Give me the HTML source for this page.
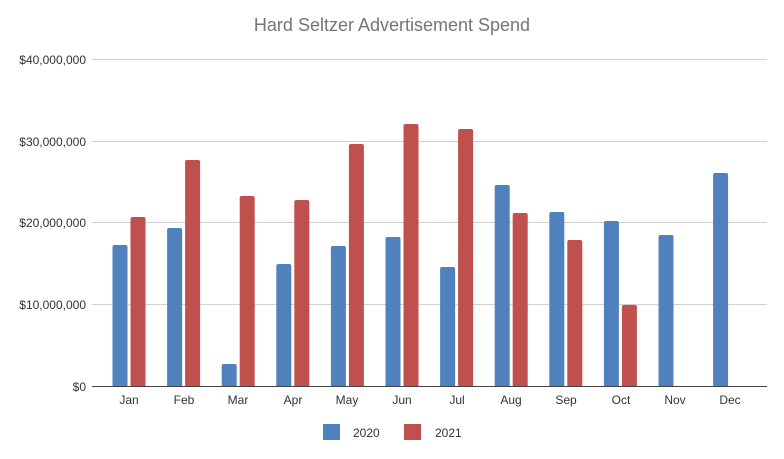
<!DOCTYPE html>
<html><head><style>body{margin:0;background:#fff}</style></head><body>
<svg width="784" height="454" xmlns="http://www.w3.org/2000/svg" font-family="'Liberation Sans',sans-serif">
<rect width="784" height="454" fill="#fff"/>
<text x="392" y="31" text-anchor="middle" font-size="18" fill="#757575">Hard Seltzer Advertisement Spend</text>
<g stroke="#d0d0d0" stroke-width="1">
<line x1="92" y1="59.5" x2="767" y2="59.5"/><line x1="92" y1="141.5" x2="767" y2="141.5"/>
<line x1="92" y1="222.5" x2="767" y2="222.5"/><line x1="92" y1="304.5" x2="767" y2="304.5"/>
</g>
<g font-size="12" fill="#333" text-anchor="end">
<text x="86" y="64">$40,000,000</text><text x="86" y="146">$30,000,000</text>
<text x="86" y="227">$20,000,000</text><text x="86" y="309">$10,000,000</text><text x="86" y="391">$0</text>
</g>
<g fill="#4f81bd">
<rect x="112.5" y="245" width="15" height="143" rx="2"/>
<rect x="167.1" y="228" width="15" height="160" rx="2"/>
<rect x="221.7" y="364" width="15" height="24" rx="2"/>
<rect x="276.3" y="264" width="15" height="124" rx="2"/>
<rect x="330.9" y="246" width="15" height="142" rx="2"/>
<rect x="385.5" y="237" width="15" height="151" rx="2"/>
<rect x="440.1" y="267" width="15" height="121" rx="2"/>
<rect x="494.7" y="185" width="15" height="203" rx="2"/>
<rect x="549.3" y="212" width="15" height="176" rx="2"/>
<rect x="603.9" y="221" width="15" height="167" rx="2"/>
<rect x="658.5" y="235" width="15" height="153" rx="2"/>
<rect x="713.1" y="173" width="15" height="215" rx="2"/>
</g>
<g fill="#c0504d">
<rect x="130.5" y="217" width="15" height="171" rx="2"/>
<rect x="185.1" y="160" width="15" height="228" rx="2"/>
<rect x="239.7" y="196" width="15" height="192" rx="2"/>
<rect x="294.3" y="200" width="15" height="188" rx="2"/>
<rect x="348.9" y="144" width="15" height="244" rx="2"/>
<rect x="403.5" y="124" width="15" height="264" rx="2"/>
<rect x="458.1" y="129" width="15" height="259" rx="2"/>
<rect x="512.7" y="213" width="15" height="175" rx="2"/>
<rect x="567.3" y="240" width="15" height="148" rx="2"/>
<rect x="621.9" y="305" width="15" height="83" rx="2"/>
</g>
<rect x="92" y="387" width="675" height="5" fill="#fff"/>
<line x1="92" y1="386.5" x2="767" y2="386.5" stroke="#444" stroke-width="1"/>
<g font-size="12" fill="#333" text-anchor="middle">
<text x="129" y="404">Jan</text><text x="184" y="404">Feb</text><text x="238" y="404">Mar</text><text x="293" y="404">Apr</text><text x="347" y="404">May</text><text x="402" y="404">Jun</text><text x="457" y="404">Jul</text><text x="511" y="404">Aug</text><text x="566" y="404">Sep</text><text x="621" y="404">Oct</text><text x="675" y="404">Nov</text><text x="730" y="404">Dec</text>
</g>
<rect x="323" y="424" width="17" height="16" fill="#4f81bd"/>
<text x="353" y="437" font-size="12" fill="#333">2020</text>
<rect x="404" y="424" width="17" height="16" fill="#c0504d"/>
<text x="435" y="437" font-size="12" fill="#333">2021</text>
</svg>
</body></html>
